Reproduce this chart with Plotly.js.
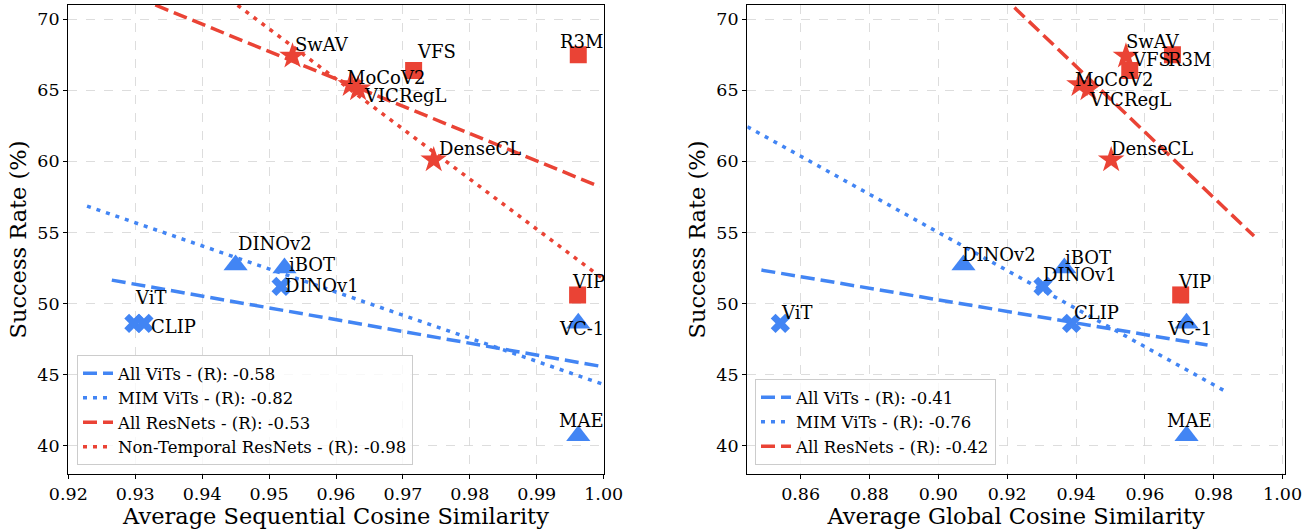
<!DOCTYPE html>
<html>
<head>
<meta charset="utf-8">
<script src="https://cdn.plot.ly/plotly-3.0.1.min.js"></script>
<style>html,body{margin:0;padding:0;background:#fff;}#chart{width:1314px;height:529px;}</style>
</head>
<body>
<div id="chart"></div>
<script>
// ---------------- DATA ----------------
// ViT models drawn with an "X" marker
const vitXNames = ['ViT', 'CLIP', 'DINOv1'];
const vitXSeq = [0.9298, 0.9313, 0.9518];
const vitXGlobal = [0.8541, 0.9387, 0.9304];
const vitXSuccess = [48.6, 48.6, 51.2];

// ViT models drawn with a triangle marker
const vitTriNames = ['DINOv2', 'iBOT', 'VC-1', 'MAE'];
const vitTriSeq = [0.9450, 0.9523, 0.9962, 0.9962];
const vitTriGlobal = [0.9073, 0.9366, 0.9721, 0.9721];
const vitTriSuccess = [52.7, 52.5, 48.6, 40.7];

// ResNet models drawn with a star (non-temporal)
const resStarNames = ['SwAV', 'MoCoV2', 'VICRegL', 'DenseCL'];
const resStarSeq = [0.9535, 0.9622, 0.9633, 0.9746];
const resStarGlobal = [0.9545, 0.9410, 0.9436, 0.9502];
const resStarSuccess = [67.4, 65.4, 65.1, 60.1];

// ResNet models drawn with a square (temporal)
const resSqNames = ['VFS', 'R3M', 'VIP'];
const resSqSeq = [0.9716, 0.9962, 0.9961];
const resSqGlobal = [0.9556, 0.9680, 0.9704];
const resSqSuccess = [66.4, 67.5, 50.6];

// Regression lines (end points)
const seqFitNames = ['All ViTs - (R): -0.58', 'MIM ViTs - (R): -0.82', 'All ResNets - (R): -0.53', 'Non-Temporal ResNets - (R): -0.98'];
const seqFitX = [[0.9265, 1.0], [0.9228, 1.0], [0.9330, 0.9994], [0.9453, 1.0]];
const seqFitY = [[51.64, 45.54], [56.85, 44.30], [71.0, 58.22], [70.98, 51.7]];

const globFitNames = ['All ViTs - (R): -0.41', 'MIM ViTs - (R): -0.76', 'All ResNets - (R): -0.42'];
const globFitX = [[0.8486, 0.9782], [0.8445, 0.9842], [0.9221, 0.9917]];
const globFitY = [[52.35, 47.07], [62.44, 43.71], [70.82, 54.74]];

const yTicks = [40, 45, 50, 55, 60, 65, 70];
const seqTicks = [0.92, 0.93, 0.94, 0.95, 0.96, 0.97, 0.98, 0.99, 1.00];
const globTicks = [0.86, 0.88, 0.90, 0.92, 0.94, 0.96, 0.98, 1.00];

// ---------------- STYLE ----------------
const FONT = 'DejaVu Serif';
const RED = '#EA4335';
const BLUE = '#4285F4';
const DASH = '14px,6px';
const DOT = '4px,6px';
const fitStyles = [
  {color: BLUE, dash: DASH},
  {color: BLUE, dash: DOT},
  {color: RED, dash: DASH},
  {color: RED, dash: DOT}
];

// label offsets in px (dx right, dy up) relative to each marker
const seqLabelOff = {
  'SwAV': [1, 4], 'VFS': [2, 11], 'R3M': [-19, 6], 'MoCoV2': [-5, 0], 'VICRegL': [5, -14],
  'DenseCL': [4, 4], 'DINOv2': [1, 14], 'iBOT': [4, -4], 'DINOv1': [3, -7], 'ViT': [0, 18],
  'CLIP': [6, -11], 'VIP': [-7, 6], 'VC-1': [-20, -13], 'MAE': [-20, 8]
};
const globLabelOff = {
  'SwAV': [-1, 7], 'VFS': [1, 3], 'R3M': [-5, -12], 'MoCoV2': [-5, -2], 'VICRegL': [0, -18],
  'DenseCL': [-1, 4], 'DINOv2': [-2, 3], 'iBOT': [0, 3], 'DINOv1': [-1, 4], 'ViT': [0, 3],
  'CLIP': [1, 3], 'VIP': [-4, 6], 'VC-1': [-21, -13], 'MAE': [-21, 8]
};

const traces = [];
function markers(x, y, names, symbol, color, size, xa, ya) {
  traces.push({
    type: 'scatter', mode: 'markers', x: x, y: y, text: names,
    xaxis: xa, yaxis: ya, showlegend: false, hoverinfo: 'text',
    marker: {symbol: symbol, color: color, size: size, line: {width: 0}}
  });
}
markers(vitXSeq, vitXSuccess, vitXNames, 'x', BLUE, 17, 'x', 'y');
markers(vitTriSeq, vitTriSuccess, vitTriNames, 'triangle-up', BLUE, 21, 'x', 'y');
markers(resStarSeq, resStarSuccess, resStarNames, 'star', RED, 20, 'x', 'y');
markers(resSqSeq, resSqSuccess, resSqNames, 'square', RED, 17, 'x', 'y');
markers(vitXGlobal, vitXSuccess, vitXNames, 'x', BLUE, 17, 'x2', 'y2');
markers(vitTriGlobal, vitTriSuccess, vitTriNames, 'triangle-up', BLUE, 21, 'x2', 'y2');
markers(resStarGlobal, resStarSuccess, resStarNames, 'star', RED, 20, 'x2', 'y2');
markers(resSqGlobal, resSqSuccess, resSqNames, 'square', RED, 17, 'x2', 'y2');

seqFitNames.forEach((n, i) => traces.push({
  type: 'scatter', mode: 'lines', x: seqFitX[i], y: seqFitY[i], name: n,
  xaxis: 'x', yaxis: 'y', legend: 'legend', hoverinfo: 'skip',
  line: {color: fitStyles[i].color, dash: fitStyles[i].dash, width: 3.5}
}));
globFitNames.forEach((n, i) => traces.push({
  type: 'scatter', mode: 'lines', x: globFitX[i], y: globFitY[i], name: n,
  xaxis: 'x2', yaxis: 'y2', legend: 'legend2', hoverinfo: 'skip',
  line: {color: fitStyles[i].color, dash: fitStyles[i].dash, width: 3.5}
}));

const annotations = [];
function labels(xs, ys, names, off, xref, yref) {
  names.forEach((n, i) => {
    const o = off[n];
    annotations.push({
      x: xs[i], y: ys[i], xref: xref, yref: yref, text: n, showarrow: false,
      xanchor: 'left', yanchor: 'bottom', xshift: o[0] - 1, yshift: o[1] - 5,
      font: {family: FONT, size: 18, color: '#000'}
    });
  });
}
labels(vitXSeq, vitXSuccess, vitXNames, seqLabelOff, 'x', 'y');
labels(vitTriSeq, vitTriSuccess, vitTriNames, seqLabelOff, 'x', 'y');
labels(resStarSeq, resStarSuccess, resStarNames, seqLabelOff, 'x', 'y');
labels(resSqSeq, resSqSuccess, resSqNames, seqLabelOff, 'x', 'y');
labels(vitXGlobal, vitXSuccess, vitXNames, globLabelOff, 'x2', 'y2');
labels(vitTriGlobal, vitTriSuccess, vitTriNames, globLabelOff, 'x2', 'y2');
labels(resStarGlobal, resStarSuccess, resStarNames, globLabelOff, 'x2', 'y2');
labels(resSqGlobal, resSqSuccess, resSqNames, globLabelOff, 'x2', 'y2');

const axisCommon = {
  showline: true, mirror: true, linecolor: '#000', linewidth: 1.2,
  ticks: 'outside', ticklen: 4, tickwidth: 1, tickcolor: '#000',
  showgrid: true, gridcolor: '#d4d4d4', gridwidth: 0.8, griddash: 'dash',
  zeroline: false, automargin: false,
  tickfont: {family: FONT, size: 17.5, color: '#000'}
};
const titleFont = {family: FONT, size: 22.5, color: '#000'};
const legendCommon = {
  bgcolor: 'rgba(255,255,255,0.8)', bordercolor: '#cccccc', borderwidth: 1,
  font: {family: FONT, size: 16.5, color: '#000'}, xanchor: 'left', yanchor: 'bottom'
};

const layout = {
  width: 1314, height: 529,
  margin: {l: 0, r: 0, t: 5, b: 55},
  paper_bgcolor: '#fff', plot_bgcolor: '#fff',
  font: {family: FONT, color: '#000'},
  xaxis: Object.assign({}, axisCommon, {
    domain: [68.3 / 1314, 603.7 / 1314], range: [0.92, 1.0],
    tickvals: seqTicks, ticktext: seqTicks.map(v => v.toFixed(2)),
    title: {text: 'Average Sequential Cosine Similarity', font: titleFont, standoff: 4}
  }),
  yaxis: Object.assign({}, axisCommon, {
    domain: [0, 1], range: [38.0, 71.0], tickvals: yTicks,
    title: {text: 'Success Rate (%)', font: titleFont, standoff: 4}
  }),
  xaxis2: Object.assign({}, axisCommon, {
    domain: [747.3 / 1314, 1285 / 1314], range: [0.8445, 1.0007], anchor: 'y2',
    tickvals: globTicks, ticktext: globTicks.map(v => v.toFixed(2)),
    title: {text: 'Average Global Cosine Similarity', font: titleFont, standoff: 4}
  }),
  yaxis2: Object.assign({}, axisCommon, {
    domain: [0, 1], range: [38.0, 71.0], tickvals: yTicks, anchor: 'x2',
    title: {text: 'Success Rate (%)', font: titleFont, standoff: 4}
  }),
  legend: Object.assign({}, legendCommon, {x: 77 / 1314, y: 0.019}),
  legend2: Object.assign({}, legendCommon, {x: 755 / 1314, y: 0.019}),
  annotations: annotations,
  showlegend: true
};

Plotly.newPlot('chart', traces, layout, {displayModeBar: false, staticPlot: true});
</script>
</body>
</html>
